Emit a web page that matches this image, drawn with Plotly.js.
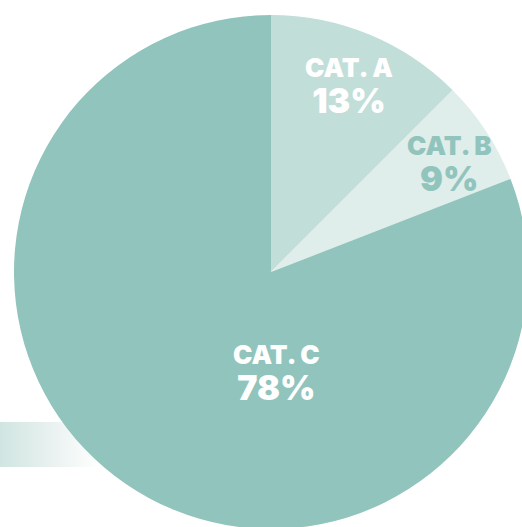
<!DOCTYPE html>
<html>
<head>
<meta charset="utf-8">
<script src="https://cdn.plot.ly/plotly-3.0.1.min.js"></script>
<style>
  html, body { margin: 0; padding: 0; width: 522px; height: 527px; overflow: hidden; background: #ffffff; }
  #band { position: absolute; left: 0; top: 422px; width: 100px; height: 45px;
          background: linear-gradient(to right, #d0e5e1 0%, #e6f0ee 45%, rgba(255,255,255,0) 100%); }
  #chart { position: absolute; left: 0; top: 0; width: 540px; height: 540px; }
</style>
</head>
<body>
<div id="band"></div>
<div id="chart"></div>
<script>
// Data
const categories = ['CAT. A', 'CAT. B', 'CAT. C'];
const sliceValues = [12.5, 6.6, 80.9];          // slice sizes as drawn
const percentLabels = ['13%', '9%', '78%'];     // labels as printed
const sliceColors = ['#c2ded9', '#e0eeeb', '#91c4bc'];
const textColors = ['#ffffff', '#91c4bc', '#ffffff'];
// label block centres (pixels in the 540px canvas)
const labelPos = [[349, 87], [449, 164], [276, 373]];

const W = 540, H = 540;
const FONT = 'Inter, "Open Sans", sans-serif';

const annotations = categories.map((c, i) => ({
  text: '<span style="font-size:26px">' + c + '</span><br><span style="font-size:34px">' + percentLabels[i] + '</span>',
  xref: 'paper', yref: 'paper',
  x: labelPos[i][0] / W, y: 1 - labelPos[i][1] / H,
  xanchor: 'center', yanchor: 'middle', align: 'center', showarrow: false,
  font: { family: FONT, size: 28, weight: 900, color: textColors[i] }
}));

const trace = {
  type: 'pie',
  labels: categories,
  values: sliceValues,
  sort: false,
  direction: 'clockwise',
  rotation: 0,
  textinfo: 'none',
  hoverinfo: 'none',
  marker: { colors: sliceColors, line: { width: 0 } },
  domain: { x: [14 / W, 528 / W], y: [1 - 529 / H, 1 - 15 / H] },
  showlegend: false
};

const layout = {
  width: W, height: H,
  margin: { l: 0, r: 0, t: 0, b: 0, pad: 0 },
  paper_bgcolor: 'rgba(0,0,0,0)',
  plot_bgcolor: 'rgba(0,0,0,0)',
  showlegend: false,
  annotations: annotations
};

Plotly.newPlot('chart', [trace], layout, { staticPlot: true, displayModeBar: false });
</script>
</body>
</html>
